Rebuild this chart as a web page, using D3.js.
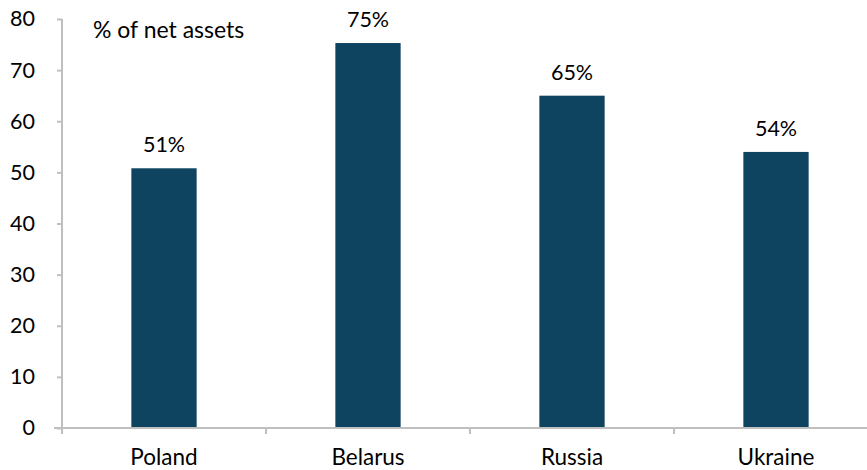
<!DOCTYPE html>
<html>
<head>
<meta charset="utf-8">
<script src="https://cdn.jsdelivr.net/npm/d3@7"></script>
<style>
  html, body { margin: 0; padding: 0; background: #fff; }
  svg { display: block; font-family: Lato, "Open Sans", sans-serif; }
</style>
</head>
<body>
<svg id="chart" width="867" height="470"></svg>
<script>
// Share of net assets by country
const countries = ["Poland", "Belarus", "Russia", "Ukraine"];
const shares = [50.8, 75.3, 65.0, 54.0];
const yTicks = [0, 10, 20, 30, 40, 50, 60, 70, 80];
const unitLabel = "% of net assets";

const svg = d3.select("#chart");
const margin = { left: 62, top: 19, bottom: 42 };
const plotW = 816;
const y0 = 470 - margin.bottom;

const x = d3.scaleBand().domain(countries).range([margin.left, margin.left + plotW]).padding(0);
const y = d3.scaleLinear().domain([0, 80]).range([y0, margin.top]);

const barW = x.bandwidth() * 0.32;
const axisColor = "#bfbfbf";

// bars
svg.append("g").selectAll("rect").data(countries).join("rect")
  .attr("x", (d) => x(d) + (x.bandwidth() - barW) / 2)
  .attr("y", (d, i) => y(shares[i]))
  .attr("width", barW)
  .attr("height", (d, i) => y(0) - y(shares[i]))
  .attr("fill", "#0f4461");

// value labels
svg.append("g").selectAll("text").data(countries).join("text")
  .attr("x", (d) => x(d) + x.bandwidth() / 2)
  .attr("y", (d, i) => y(shares[i]) - 16)
  .attr("text-anchor", "middle")
  .attr("font-size", 21.5)
  .attr("fill", "#000")
  .text((d, i) => Math.round(shares[i]) + "%");

// y axis
const yAxis = svg.append("g")
  .attr("transform", `translate(${margin.left},0)`)
  .call(d3.axisLeft(y).tickValues(yTicks).tickSize(5).tickPadding(22));
yAxis.select(".domain").attr("stroke", axisColor).attr("stroke-width", 2)
  .attr("d", `M0,${y(80)}V${y(0)}`);
yAxis.selectAll(".tick line").attr("stroke", axisColor).attr("stroke-width", 2);
yAxis.selectAll(".tick text").attr("font-size", 21.5).attr("font-family", "Lato, sans-serif").attr("fill", "#000");

// x axis with ticks at category boundaries
const xAxis = svg.append("g").attr("transform", `translate(0,${y0})`);
xAxis.append("line")
  .attr("x1", margin.left - 8).attr("x2", margin.left + plotW)
  .attr("y1", 0).attr("y2", 0)
  .attr("stroke", axisColor).attr("stroke-width", 2);
const bounds = countries.map((d) => x(d)).concat([x(countries[countries.length - 1]) + x.bandwidth()]);
xAxis.selectAll("line.tk").data(bounds).join("line")
  .attr("class", "tk")
  .attr("x1", (d) => d).attr("x2", (d) => d)
  .attr("y1", 0).attr("y2", 6)
  .attr("stroke", axisColor).attr("stroke-width", 2);
xAxis.selectAll("text").data(countries).join("text")
  .attr("x", (d) => x(d) + x.bandwidth() / 2)
  .attr("y", 37)
  .attr("text-anchor", "middle")
  .attr("font-size", 22.5)
  .attr("fill", "#000")
  .text((d) => d);

// unit label
svg.append("text")
  .attr("x", 93).attr("y", 38)
  .attr("font-size", 23)
  .attr("fill", "#000")
  .text(unitLabel);
</script>
</body>
</html>
